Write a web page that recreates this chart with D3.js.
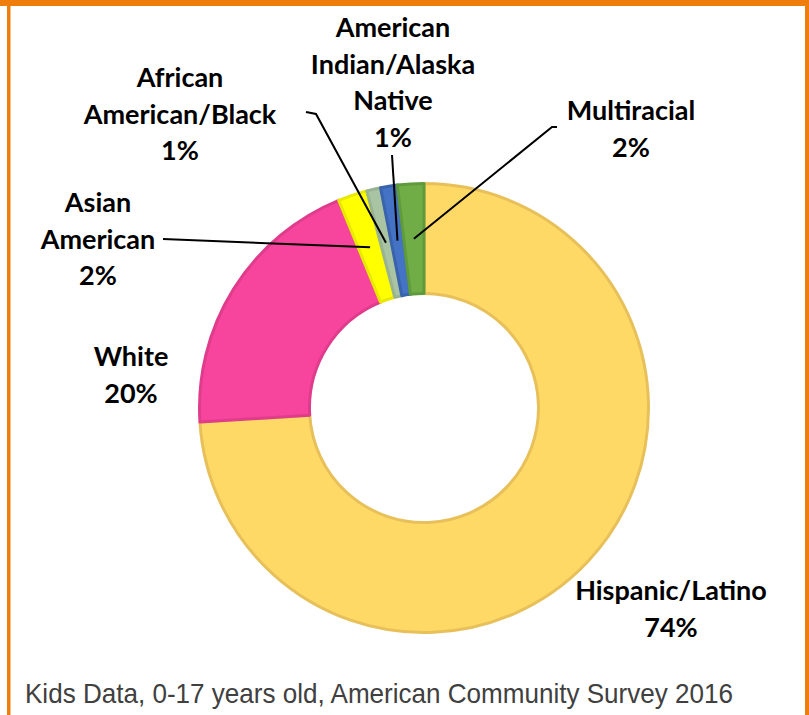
<!DOCTYPE html>
<html lang="en">
<head>
<meta charset="utf-8">
<title>Kids Data - race/ethnicity</title>
<script src="https://d3js.org/d3.v7.min.js"></script>
<style>
body { margin: 0; background: #ffffff; }
.label { font-family: Lato, "Open Sans", sans-serif; font-weight: bold; font-size: 27px; fill: #000; }
.caption { font-family: "Liberation Sans", Arial, sans-serif; font-size: 28px; fill: #404040; }
.leader { fill: none; stroke: #000; stroke-width: 2; }
</style>
</head>
<body>
<div id="container"></div>
<script>
// data
var groups = ["Hispanic/Latino", "White", "Asian American", "African American/Black", "American Indian/Alaska Native", "Multiracial"];
var percents = [74.0, 19.8, 2.1, 1.0, 1.2, 1.9];
var colors = ["#ffd966", "#f7449d", "#ffff00", "#a9c4a3", "#4472c4", "#70ad47"];
var strokes = ["#e8c05a", "#e03c8c", "#e8e800", "#98b393", "#3a63ad", "#5f9a3b"];

// label layout (line breaks and where each label sits)
var labelLines = [
  ["Hispanic/Latino"],
  ["White"],
  ["Asian", "American"],
  ["African", "American/Black"],
  ["American", "Indian/Alaska", "Native"],
  ["Multiracial"]
];
var labelPos = [[671, 600], [131, 366], [98, 212], [180, 87], [393, 37], [631, 120]];
// leader start points (null = no leader)
var leaderStart = [null, null, [[163, 239]], [[306, 112], [316, 114]], [[392, 155]], [[557, 127], [552, 127]]];

var w = 809, h = 715;
var svg = d3.select("#container").append("svg")
  .attr("width", w).attr("height", h)
  .style("display", "block");

// orange frame
svg.append("rect").attr("x", 0).attr("y", 0).attr("width", w).attr("height", 6).attr("fill", "#ef7d0b");
svg.append("rect").attr("x", 7).attr("y", 0).attr("width", 3.5).attr("height", h).attr("fill", "#ef7d0b");
svg.append("rect").attr("x", 805).attr("y", 0).attr("width", 4).attr("height", h).attr("fill", "#ef7d0b");

var cx = 424, cy = 408, outerR = 226, innerR = 113;
var g = svg.append("g").attr("transform", "translate(" + cx + "," + cy + ")");

var pie = d3.pie().sort(null).value(function(d) { return d; });
var arcs = pie(percents);
var arc = d3.arc().innerRadius(innerR + 1.5).outerRadius(outerR - 1.5);
var centroidArc = d3.arc().innerRadius(innerR).outerRadius(outerR);

g.selectAll("path.slice")
  .data(arcs)
  .enter()
  .append("path")
  .attr("class", "slice")
  .attr("d", arc)
  .attr("fill", function(d, i) { return colors[i]; })
  .attr("stroke", function(d, i) { return strokes[i]; })
  .attr("stroke-width", 3)
  .attr("stroke-linejoin", "round");

// leader lines
var fmt = d3.format(".0f");
arcs.forEach(function(d, i) {
  if (!leaderStart[i]) return;
  var c = centroidArc.centroid(d);
  var pts = leaderStart[i].concat([[c[0] + cx, c[1] + cy]]);
  svg.append("path").attr("class", "leader").attr("d", d3.line()(pts));
});

// labels
var lineH = 36.5;
groups.forEach(function(name, i) {
  var lines = labelLines[i].concat([fmt(percents[i]) + "%"]);
  var t = svg.append("text").attr("class", "label")
    .attr("text-anchor", "middle");
  lines.forEach(function(s, j) {
    t.append("tspan")
      .attr("x", labelPos[i][0])
      .attr("y", labelPos[i][1] + j * lineH)
      .text(s);
  });
});

svg.append("text").attr("class", "caption")
  .attr("x", 25).attr("y", 703)
  .attr("textLength", 708)
  .attr("lengthAdjust", "spacingAndGlyphs")
  .text("Kids Data, 0-17 years old, American Community Survey 2016");
</script>
</body>
</html>
